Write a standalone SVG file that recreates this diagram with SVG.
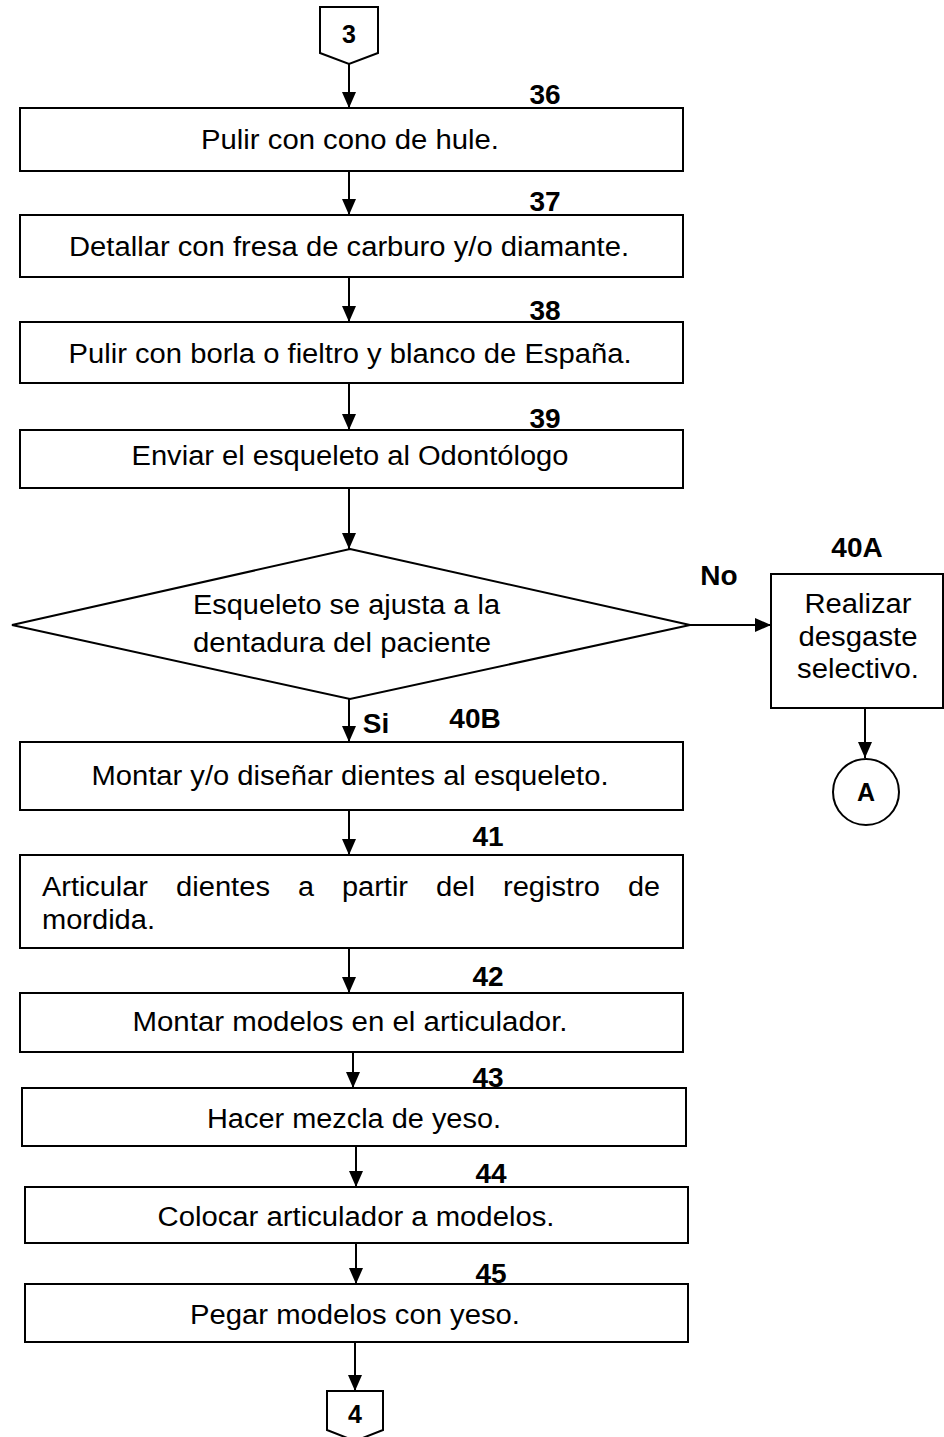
<svg xmlns="http://www.w3.org/2000/svg" width="944" height="1437" viewBox="0 0 944 1437">
<defs>
<style>
.box{fill:#fff;stroke:#000;stroke-width:2}
.t{font-family:"Liberation Sans",Arial,sans-serif;font-size:27px;fill:#000}
.c{text-anchor:middle}
.lb{font-family:"Liberation Sans",Arial,sans-serif;font-size:28px;font-weight:bold;fill:#000;text-anchor:middle}
.cl{font-family:"Liberation Sans",Arial,sans-serif;font-size:25px;font-weight:bold;fill:#000;text-anchor:middle}
.ln{stroke:#000;stroke-width:2;fill:none;marker-end:url(#ah)}
</style>
<marker id="ah" markerUnits="userSpaceOnUse" markerWidth="16" markerHeight="14" refX="16" refY="7" orient="auto">
<path d="M0,0 L16,7 L0,14 z" fill="#000"/>
</marker>
</defs>
<rect width="944" height="1437" fill="#fff"/>

<g id="connectors">
<line class="ln" x1="349" y1="64" x2="349" y2="108"/>
<line class="ln" x1="349" y1="171" x2="349" y2="215"/>
<line class="ln" x1="349" y1="277" x2="349" y2="322"/>
<line class="ln" x1="349" y1="383" x2="349" y2="430"/>
<line class="ln" x1="349" y1="488" x2="349" y2="549"/>
<line class="ln" x1="690" y1="625" x2="771" y2="625"/>
<line class="ln" x1="865" y1="708" x2="865" y2="758"/>
<line class="ln" x1="349" y1="699" x2="349" y2="742"/>
<line class="ln" x1="349" y1="810" x2="349" y2="855"/>
<line class="ln" x1="349" y1="948" x2="349" y2="993"/>
<line class="ln" x1="353" y1="1052" x2="353" y2="1088"/>
<line class="ln" x1="356" y1="1146" x2="356" y2="1187"/>
<line class="ln" x1="356" y1="1243" x2="356" y2="1284"/>
<line class="ln" x1="355" y1="1342" x2="355" y2="1391"/>
</g>

<g id="conn3">
<polygon class="box" points="320,7 378,7 378,53 349,64 320,53"/>
<text class="cl" x="349" y="43">3</text>
</g>

<g id="n36">
<rect class="box" x="20" y="108" width="663" height="63"/>
<text class="lb" x="545" y="104">36</text>
<text class="t c" x="350" y="149" textLength="298" lengthAdjust="spacingAndGlyphs">Pulir con cono de hule.</text>
</g>

<g id="n37">
<rect class="box" x="20" y="215" width="663" height="62"/>
<text class="lb" x="545" y="211">37</text>
<text class="t c" x="349" y="256" textLength="560" lengthAdjust="spacingAndGlyphs">Detallar con fresa de carburo y/o diamante.</text>
</g>

<g id="n38">
<rect class="box" x="20" y="322" width="663" height="61"/>
<text class="lb" x="545" y="320">38</text>
<text class="t c" x="350" y="363" textLength="563" lengthAdjust="spacingAndGlyphs">Pulir con borla o fieltro y blanco de España.</text>
</g>

<g id="n39">
<rect class="box" x="20" y="430" width="663" height="58"/>
<text class="lb" x="545" y="428">39</text>
<text class="t c" x="350" y="465" textLength="437" lengthAdjust="spacingAndGlyphs">Enviar el esqueleto al Odontólogo</text>
</g>

<g id="d40">
<polygon class="box" points="350,549 690,625 350,699 12,625"/>
<text class="t" x="193" y="614" textLength="307" lengthAdjust="spacingAndGlyphs">Esqueleto se ajusta a la</text>
<text class="t" x="193" y="652" textLength="298" lengthAdjust="spacingAndGlyphs">dentadura del paciente</text>
<text class="lb" x="719" y="585">No</text>
<text class="lb" x="376" y="733">Si</text>
</g>

<g id="n40A">
<rect class="box" x="771" y="574" width="172" height="134"/>
<text class="lb" x="857" y="557">40A</text>
<text class="t c" x="858" y="613" textLength="107" lengthAdjust="spacingAndGlyphs">Realizar</text>
<text class="t c" x="858" y="646" textLength="119" lengthAdjust="spacingAndGlyphs">desgaste</text>
<text class="t c" x="858" y="678" textLength="122" lengthAdjust="spacingAndGlyphs">selectivo.</text>
</g>

<g id="nA">
<circle class="box" cx="866" cy="792" r="33"/>
<text class="cl" x="866" y="801">A</text>
</g>

<g id="n40B">
<rect class="box" x="20" y="742" width="663" height="68"/>
<text class="lb" x="475" y="728">40B</text>
<text class="t c" x="350" y="785" textLength="517" lengthAdjust="spacingAndGlyphs">Montar y/o diseñar dientes al esqueleto.</text>
</g>

<g id="n41">
<rect class="box" x="20" y="855" width="663" height="93"/>
<text class="lb" x="488" y="846">41</text>
<text class="t" x="42" y="896" textLength="106" lengthAdjust="spacingAndGlyphs">Articular</text>
<text class="t" x="176" y="896" textLength="94" lengthAdjust="spacingAndGlyphs">dientes</text>
<text class="t" x="298" y="896" textLength="16" lengthAdjust="spacingAndGlyphs">a</text>
<text class="t" x="342" y="896" textLength="66" lengthAdjust="spacingAndGlyphs">partir</text>
<text class="t" x="436" y="896" textLength="39" lengthAdjust="spacingAndGlyphs">del</text>
<text class="t" x="503" y="896" textLength="97" lengthAdjust="spacingAndGlyphs">registro</text>
<text class="t" x="628" y="896" textLength="32" lengthAdjust="spacingAndGlyphs">de</text>
<text class="t" x="42" y="929" textLength="113" lengthAdjust="spacingAndGlyphs">mordida.</text>
</g>

<g id="n42">
<rect class="box" x="20" y="993" width="663" height="59"/>
<text class="lb" x="488" y="986">42</text>
<text class="t c" x="350" y="1031" textLength="435" lengthAdjust="spacingAndGlyphs">Montar modelos en el articulador.</text>
</g>

<g id="n43">
<rect class="box" x="22" y="1088" width="664" height="58"/>
<text class="lb" x="488" y="1087">43</text>
<text class="t c" x="354" y="1128" textLength="294" lengthAdjust="spacingAndGlyphs">Hacer mezcla de yeso.</text>
</g>

<g id="n44">
<rect class="box" x="25" y="1187" width="663" height="56"/>
<text class="lb" x="491" y="1183">44</text>
<text class="t c" x="356" y="1226" textLength="397" lengthAdjust="spacingAndGlyphs">Colocar articulador a modelos.</text>
</g>

<g id="n45">
<rect class="box" x="25" y="1284" width="663" height="58"/>
<text class="lb" x="491" y="1283">45</text>
<text class="t c" x="355" y="1324" textLength="330" lengthAdjust="spacingAndGlyphs">Pegar modelos con yeso.</text>
</g>

<g id="conn4">
<polygon class="box" points="327,1391 383,1391 383,1430 355,1441 327,1430"/>
<text class="cl" x="355" y="1423">4</text>
</g>
</svg>
